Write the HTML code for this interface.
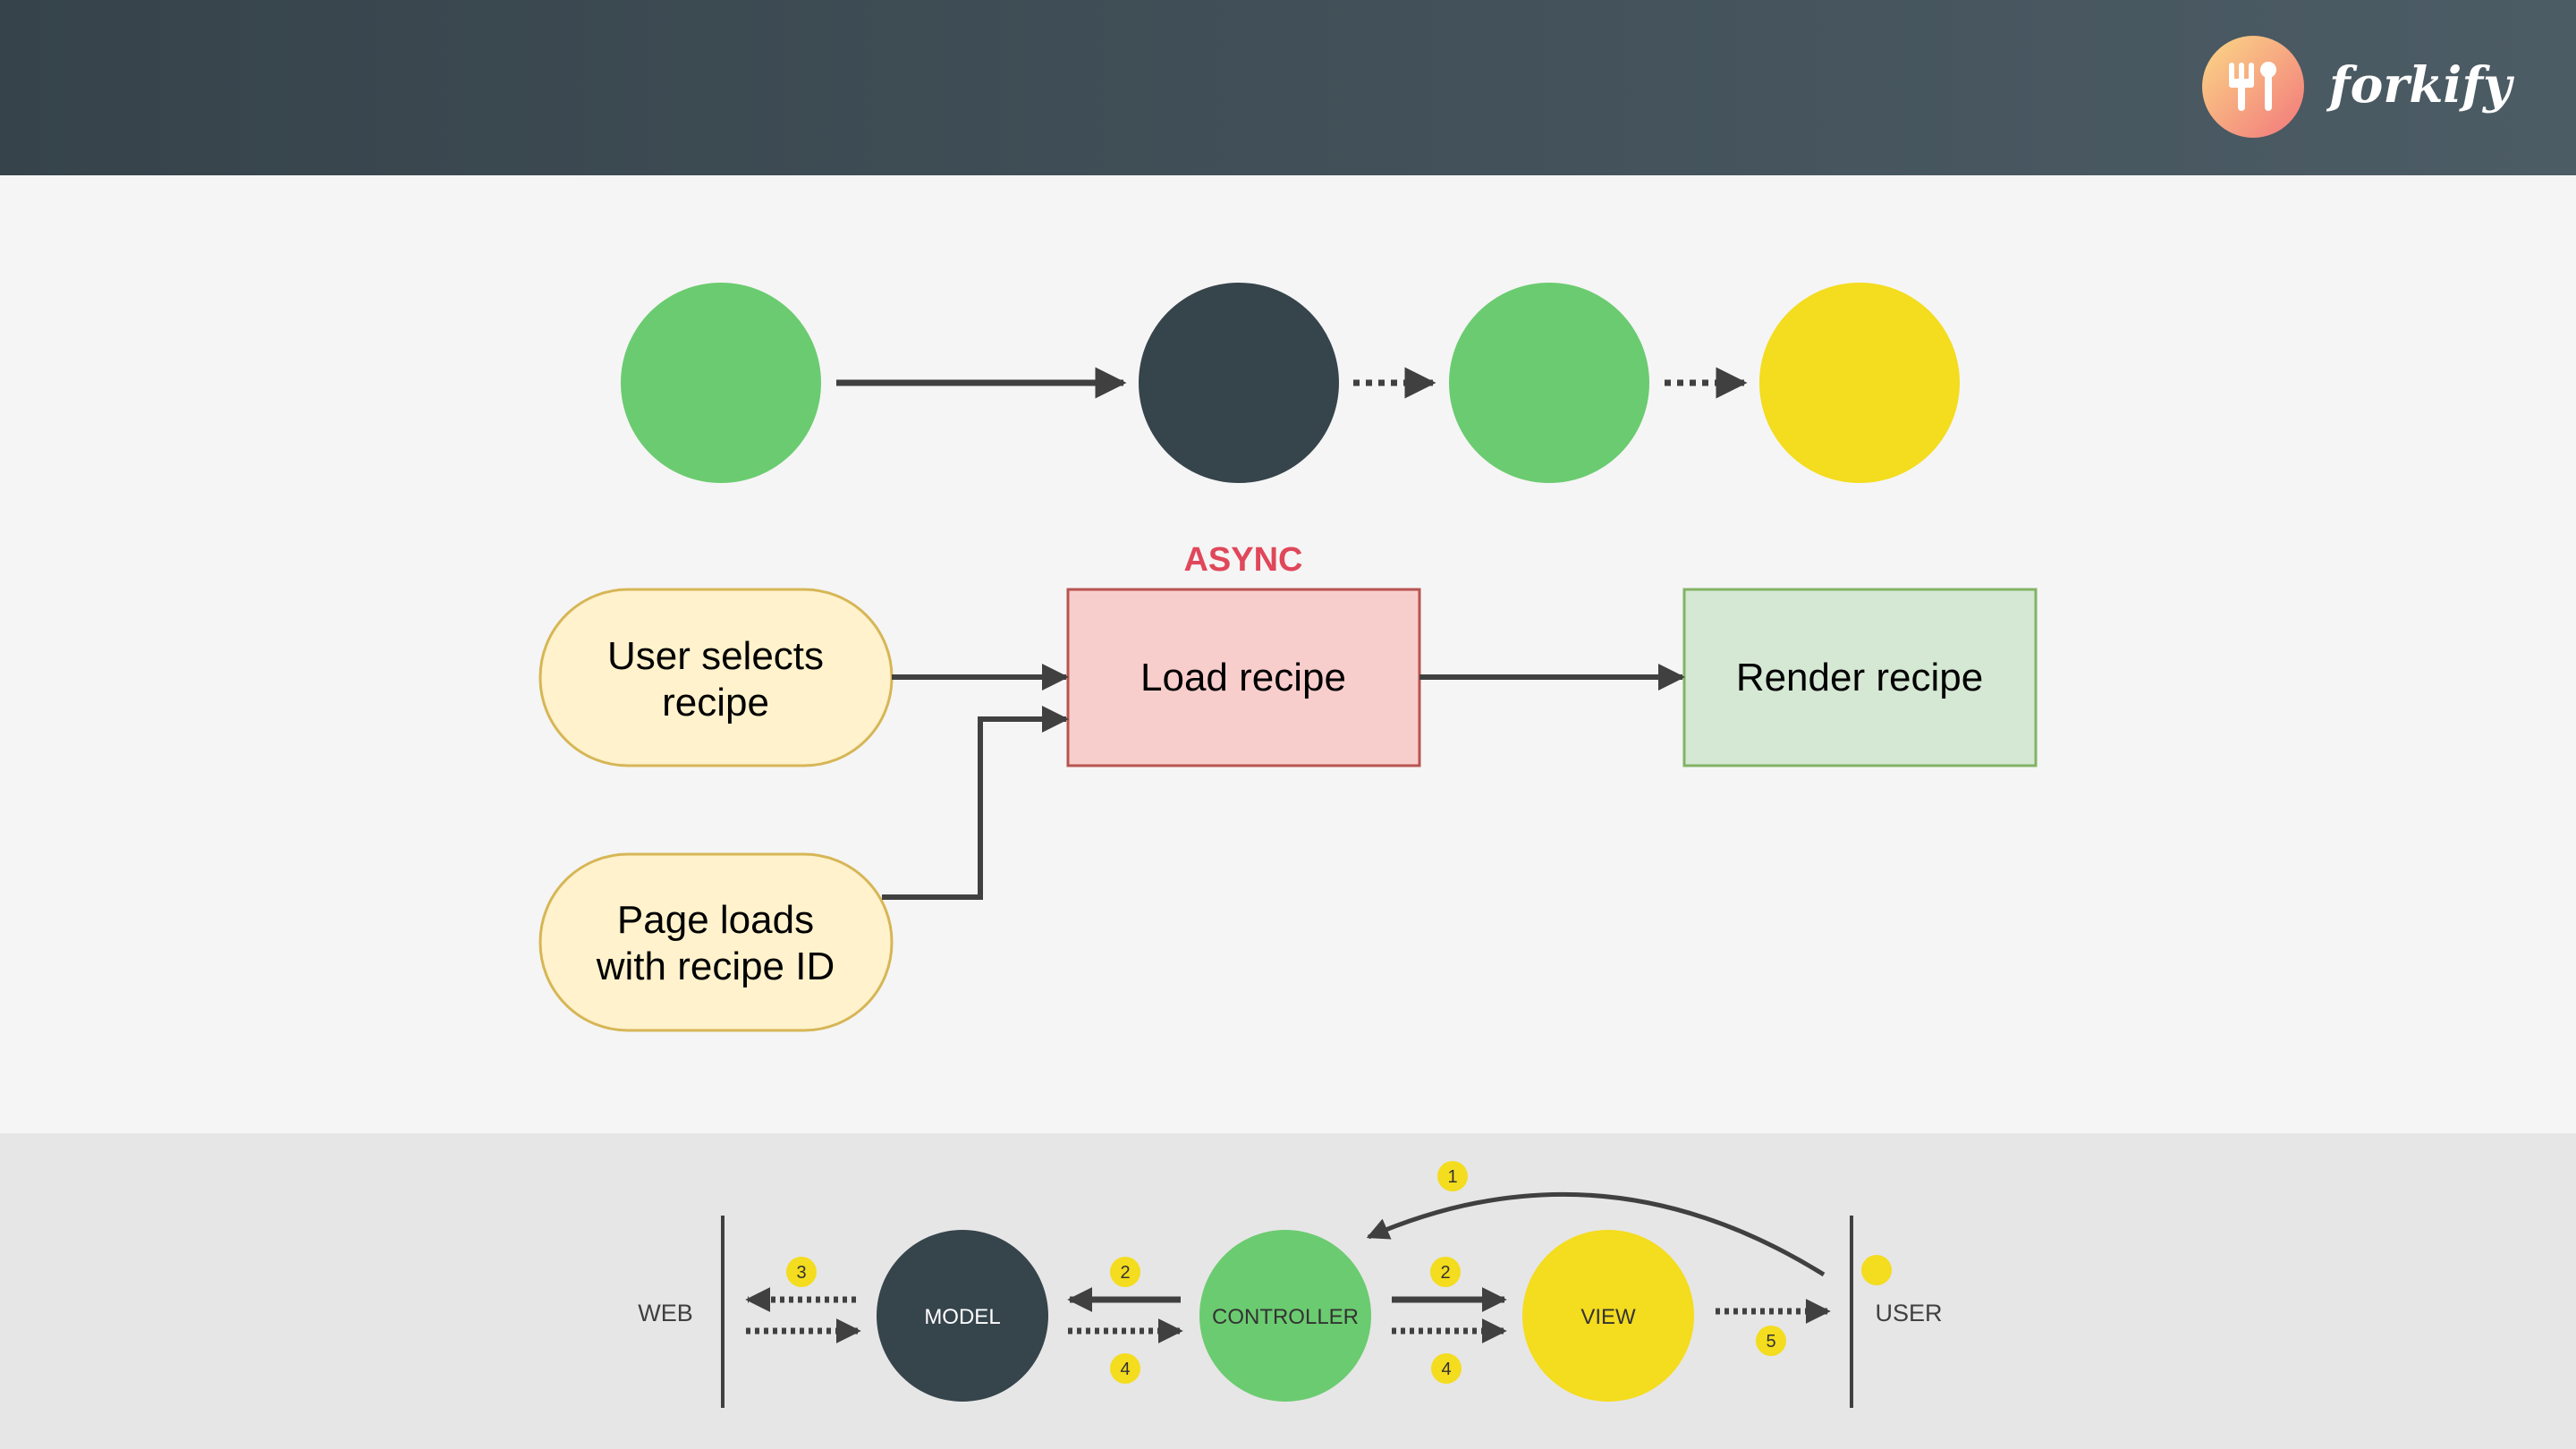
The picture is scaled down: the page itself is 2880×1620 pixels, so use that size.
<!DOCTYPE html>
<html><head><meta charset="utf-8"><style>
html,body{margin:0;padding:0;width:2880px;height:1620px;overflow:hidden;font-family:"Liberation Sans",sans-serif;}
</style></head><body>
<svg width="2880" height="1620" viewBox="0 0 2880 1620" xmlns="http://www.w3.org/2000/svg" font-family="Liberation Sans, sans-serif">
<defs>
<linearGradient id="hd" x1="0" y1="0" x2="1" y2="0"><stop offset="0" stop-color="#36434b"/><stop offset="1" stop-color="#4c5c65"/></linearGradient>
<linearGradient id="lg" x1="0" y1="0" x2="1" y2="1"><stop offset="0" stop-color="#fbd886"/><stop offset="1" stop-color="#f2777c"/></linearGradient>
<marker id="ah" viewBox="0 0 10 10" refX="9" refY="5" markerWidth="5" markerHeight="5" orient="auto" markerUnits="strokeWidth"><path d="M0,0 L10,5 L0,10 z" fill="#404040"/></marker>
<marker id="ah2" viewBox="0 0 10 10" refX="9" refY="5" markerWidth="4" markerHeight="5" orient="auto" markerUnits="strokeWidth"><path d="M0,0 L10,5 L0,10 z" fill="#404040"/></marker>
</defs>
<rect width="2880" height="1620" fill="#f5f5f5"/>
<rect width="2880" height="196" fill="url(#hd)"/>
<rect y="1267" width="2880" height="353" fill="#e6e6e6"/>
<!-- logo -->
<circle cx="2519" cy="97" r="57" fill="url(#lg)"/>
<g fill="#fff">
<rect x="2492" y="70" width="6" height="26" rx="3"/><rect x="2503" y="70" width="6" height="26" rx="3"/><rect x="2514" y="70" width="6" height="26" rx="3"/>
<rect x="2492" y="88" width="28" height="10" rx="3"/><rect x="2502" y="90" width="8" height="34" rx="4"/>
<circle cx="2536" cy="78" r="9"/><rect x="2532" y="80" width="8" height="44" rx="4"/>
</g>
<text x="2604" y="114" font-family="DejaVu Serif, serif" font-style="italic" font-weight="bold" font-size="55" fill="#fff">forkify</text>
<!-- top circles -->
<circle cx="806" cy="428" r="112" fill="#6bcb70"/>
<circle cx="1385" cy="428" r="112" fill="#36444c"/>
<circle cx="1732" cy="428" r="112" fill="#6bcb70"/>
<circle cx="2079" cy="428" r="112" fill="#f4dc1e"/>
<line x1="935" y1="428" x2="1256" y2="428" stroke="#404040" stroke-width="7" marker-end="url(#ah)"/>
<line x1="1513" y1="428" x2="1602" y2="428" stroke="#404040" stroke-width="7" stroke-dasharray="7 7" marker-end="url(#ah)"/>
<line x1="1861" y1="428" x2="1950" y2="428" stroke="#404040" stroke-width="7" stroke-dasharray="7 7" marker-end="url(#ah)"/>
<!-- flow -->
<text x="1390" y="638" text-anchor="middle" font-weight="bold" font-size="38" fill="#e0475a">ASYNC</text>
<rect x="1194" y="659" width="393" height="197" fill="#f8cecc" stroke="#b85450" stroke-width="3"/>
<text x="1390" y="772" text-anchor="middle" font-size="44" fill="#000">Load recipe</text>
<rect x="1883" y="659" width="393" height="197" fill="#d5e8d4" stroke="#82b366" stroke-width="3"/>
<text x="2079" y="772" text-anchor="middle" font-size="44" fill="#000">Render recipe</text>
<rect x="604" y="659" width="393" height="197" rx="98" fill="#fff2cc" stroke="#d6b656" stroke-width="3"/>
<text x="800" y="748" text-anchor="middle" font-size="44" fill="#000">User selects</text>
<text x="800" y="800" text-anchor="middle" font-size="44" fill="#000">recipe</text>
<rect x="604" y="955" width="393" height="197" rx="98" fill="#fff2cc" stroke="#d6b656" stroke-width="3"/>
<text x="800" y="1043" text-anchor="middle" font-size="44" fill="#000">Page loads</text>
<text x="800" y="1095" text-anchor="middle" font-size="44" fill="#000">with recipe ID</text>
<line x1="997" y1="757" x2="1192" y2="757" stroke="#404040" stroke-width="6" marker-end="url(#ah)"/>
<line x1="1587" y1="757" x2="1881" y2="757" stroke="#404040" stroke-width="6" marker-end="url(#ah)"/>
<polyline points="986,1003 1096,1003 1096,804 1192,804" fill="none" stroke="#404040" stroke-width="6" marker-end="url(#ah)"/>
<!-- bottom MVC -->
<line x1="808" y1="1359" x2="808" y2="1574" stroke="#404040" stroke-width="4"/>
<line x1="2070" y1="1359" x2="2070" y2="1574" stroke="#404040" stroke-width="4"/>
<text x="744" y="1477" text-anchor="middle" font-size="27" fill="#404040">WEB</text>
<text x="2134" y="1477" text-anchor="middle" font-size="27" fill="#404040">USER</text>
<circle cx="1076" cy="1471" r="96" fill="#36444c"/>
<circle cx="1437" cy="1471" r="96" fill="#6bcb70"/>
<circle cx="1798" cy="1471" r="96" fill="#f4dc1e"/>
<text x="1076" y="1480" text-anchor="middle" font-size="24" fill="#fff">MODEL</text>
<text x="1437" y="1480" text-anchor="middle" font-size="24" fill="#333">CONTROLLER</text>
<text x="1798" y="1480" text-anchor="middle" font-size="24" fill="#333">VIEW</text>
<g stroke="#404040" stroke-width="7" fill="none">
<line x1="957" y1="1453" x2="836" y2="1453" stroke-dasharray="5 5" marker-end="url(#ah2)"/>
<line x1="834" y1="1488" x2="960" y2="1488" stroke-dasharray="5 5" marker-end="url(#ah2)"/>
<line x1="1320" y1="1453" x2="1196" y2="1453" marker-end="url(#ah2)"/>
<line x1="1194" y1="1488" x2="1320" y2="1488" stroke-dasharray="5 5" marker-end="url(#ah2)"/>
<line x1="1556" y1="1453" x2="1682" y2="1453" marker-end="url(#ah2)"/>
<line x1="1556" y1="1488" x2="1682" y2="1488" stroke-dasharray="5 5" marker-end="url(#ah2)"/>
<line x1="1918" y1="1466" x2="2044" y2="1466" stroke-dasharray="5 5" marker-end="url(#ah2)"/>
<path d="M2039,1425 Q1790,1270 1530,1383" stroke-width="5" marker-end="url(#ah)"/>
</g>
<g fill="#f4dc1e">
<circle cx="896" cy="1422" r="17"/><circle cx="1258" cy="1422" r="17"/><circle cx="1258" cy="1530" r="17"/>
<circle cx="1616" cy="1422" r="17"/><circle cx="1617" cy="1530" r="17"/><circle cx="1624" cy="1315" r="17"/>
<circle cx="1980" cy="1499" r="17"/><circle cx="2098" cy="1420" r="17"/>
</g>
<g font-size="20" fill="#333" text-anchor="middle">
<text x="896" y="1429">3</text><text x="1258" y="1429">2</text><text x="1258" y="1537">4</text>
<text x="1616" y="1429">2</text><text x="1617" y="1537">4</text><text x="1624" y="1322">1</text><text x="1980" y="1506">5</text>
</g>
</svg>
</body></html>
